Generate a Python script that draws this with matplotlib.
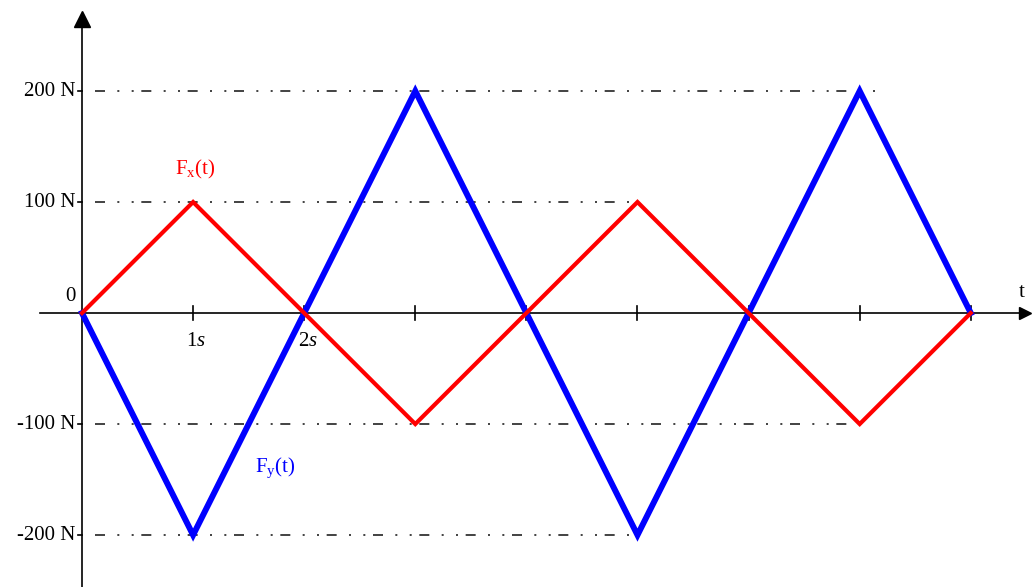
import numpy as np
import matplotlib.pyplot as plt

plt.rcParams['font.family'] = ['Liberation Serif', 'DejaVu Serif']
plt.rcParams['mathtext.fontset'] = 'custom'
plt.rcParams['mathtext.rm'] = 'Liberation Serif'
plt.rcParams['mathtext.it'] = 'Liberation Serif:italic'

# data
t = [0, 1, 2, 3, 4, 5, 6, 7, 8]
fx = [0, 100, 0, -100, 0, 100, 0, -100, 0]
fy = [0, -200, 0, 200, 0, -200, 0, 200, 0]

grid_levels = [200, 100, -100, -200]
grid_ends = [7.2, 5.0, 7.0, 5.0]
y_labels = ['200 N', '100 N', '-100 N', '-200 N']
x_ticks = [1, 2, 3, 4, 5, 6, 7, 8]
x_labels = {1: '1$\\it{s}$', 2: '2$\\it{s}$'}

fig = plt.figure(figsize=(10.32, 5.87), dpi=100)
ax = fig.add_axes([0, 0, 1, 1])
ax.set_xlim(-0.738, 8.551)
ax.set_ylim(-246.8, 282)
ax.axis('off')

# dash-dot-dot grid lines
for lvl, end in zip(grid_levels, grid_ends):
    ax.plot([0.12, end], [lvl, lvl], color='#222222', lw=1.2,
            dashes=(6, 7.4, 1.2, 7.4, 1.2, 4.6))

# axes with arrows
ax.plot([-0.38, 8.45], [0, 0], color='black', lw=1.2)
ax.plot([0, 0], [-260, 262], color='black', lw=1.2)
ax.plot(8.49, 0, marker='>', color='black', ms=9, clip_on=False)
ax.plot(0, 265, marker='^', color='black', ms=11, clip_on=False)

for xt in x_ticks:
    ax.plot([xt, xt], [-6, 6], color='black', lw=1.2)
    if xt in x_labels:
        ax.text(xt + 0.03, -17, x_labels[xt], ha='center', va='top', fontsize=15)
for lvl, lab in zip(grid_levels, y_labels):
    ax.plot([-0.04, 0], [lvl, lvl], color='black', lw=1.2)
    ax.text(-0.06, lvl, lab, ha='right', va='center', fontsize=15)

ax.text(-0.06, 6, '0', ha='right', va='bottom', fontsize=15)
ax.text(8.46, 10, 't', ha='center', va='bottom', fontsize=15)

ax.plot(t, fy, color='#0000ff', lw=4.3, solid_joinstyle='miter')
ax.plot(t, fx, color='#ff0000', lw=3.0, solid_joinstyle='miter')

ax.text(1.02, 129, '$\\mathrm{F_{x}(t)}$', color='red', ha='center',
        va='center', fontsize=15)
ax.text(1.74, -139, '$\\mathrm{F_{y}(t)}$', color='blue', ha='center',
        va='center', fontsize=15)

fig.savefig('out.png', dpi=100)
